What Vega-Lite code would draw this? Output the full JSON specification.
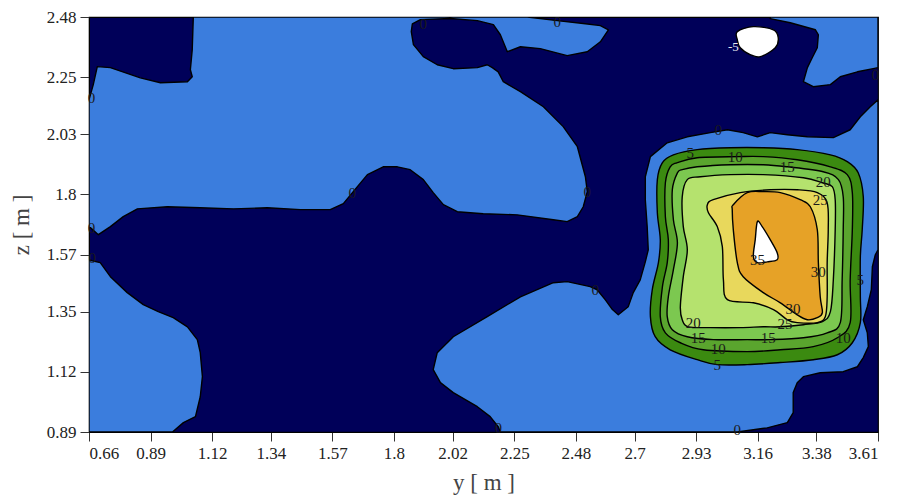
{
"$schema": "https://vega.github.io/schema/vega-lite/v6.json",
"width": 789, "height": 415,
"autosize": {"type": "none"},
"padding": {"left": 89, "top": 17, "right": 19, "bottom": 69},
"background": "white",
"config": {
 "view": {"fill": "#000059", "stroke": "black", "strokeWidth": 1.2},
 "font": "Liberation Serif",
 "axis": {"labelFont": "Liberation Serif", "labelFontSize": 17, "labelColor": "#222", "titleFont": "Liberation Serif", "titleFontSize": 23, "titleFontWeight": "normal", "titleColor": "#444", "tickColor": "#333", "tickSize": 9, "domainColor": "black", "grid": false, "labelPadding": 4}
},
"layer": [
{
 "data": {"values": [
{"p":"p01","b":"00-05","k":1,"y":0.660,"z":2.163},
{"p":"p01","b":"00-05","k":2,"y":0.676,"z":2.221},
{"p":"p01","b":"00-05","k":3,"y":0.691,"z":2.290},
{"p":"p01","b":"00-05","k":4,"y":0.740,"z":2.286},
{"p":"p01","b":"00-05","k":5,"y":0.852,"z":2.247},
{"p":"p01","b":"00-05","k":6,"y":0.927,"z":2.228},
{"p":"p01","b":"00-05","k":7,"y":1.028,"z":2.232},
{"p":"p01","b":"00-05","k":8,"y":1.046,"z":2.251},
{"p":"p01","b":"00-05","k":9,"y":1.039,"z":2.278},
{"p":"p01","b":"00-05","k":10,"y":1.046,"z":2.355},
{"p":"p01","b":"00-05","k":11,"y":1.050,"z":2.480},
{"p":"p01","b":"00-05","k":12,"y":2.299,"z":2.480},
{"p":"p01","b":"00-05","k":13,"y":2.411,"z":2.466},
{"p":"p01","b":"00-05","k":14,"y":2.516,"z":2.454},
{"p":"p01","b":"00-05","k":15,"y":2.572,"z":2.447},
{"p":"p01","b":"00-05","k":16,"y":2.602,"z":2.431},
{"p":"p01","b":"00-05","k":17,"y":2.572,"z":2.385},
{"p":"p01","b":"00-05","k":18,"y":2.523,"z":2.347},
{"p":"p01","b":"00-05","k":19,"y":2.448,"z":2.332},
{"p":"p01","b":"00-05","k":20,"y":2.347,"z":2.359},
{"p":"p01","b":"00-05","k":21,"y":2.273,"z":2.366},
{"p":"p01","b":"00-05","k":22,"y":2.224,"z":2.347},
{"p":"p01","b":"00-05","k":23,"y":2.198,"z":2.412},
{"p":"p01","b":"00-05","k":24,"y":2.172,"z":2.451},
{"p":"p01","b":"00-05","k":25,"y":2.112,"z":2.466},
{"p":"p01","b":"00-05","k":26,"y":2.011,"z":2.474},
{"p":"p01","b":"00-05","k":27,"y":1.899,"z":2.470},
{"p":"p01","b":"00-05","k":28,"y":1.869,"z":2.454},
{"p":"p01","b":"00-05","k":29,"y":1.865,"z":2.424},
{"p":"p01","b":"00-05","k":30,"y":1.873,"z":2.374},
{"p":"p01","b":"00-05","k":31,"y":1.910,"z":2.328},
{"p":"p01","b":"00-05","k":32,"y":1.962,"z":2.297},
{"p":"p01","b":"00-05","k":33,"y":2.022,"z":2.282},
{"p":"p01","b":"00-05","k":34,"y":2.112,"z":2.286},
{"p":"p01","b":"00-05","k":35,"y":2.149,"z":2.297},
{"p":"p01","b":"00-05","k":36,"y":2.168,"z":2.286},
{"p":"p01","b":"00-05","k":37,"y":2.190,"z":2.270},
{"p":"p01","b":"00-05","k":38,"y":2.209,"z":2.232},
{"p":"p01","b":"00-05","k":39,"y":2.273,"z":2.194},
{"p":"p01","b":"00-05","k":40,"y":2.359,"z":2.136},
{"p":"p01","b":"00-05","k":41,"y":2.433,"z":2.060},
{"p":"p01","b":"00-05","k":42,"y":2.486,"z":1.983},
{"p":"p01","b":"00-05","k":43,"y":2.516,"z":1.868},
{"p":"p01","b":"00-05","k":44,"y":2.523,"z":1.811},
{"p":"p01","b":"00-05","k":45,"y":2.508,"z":1.753},
{"p":"p01","b":"00-05","k":46,"y":2.486,"z":1.715},
{"p":"p01","b":"00-05","k":47,"y":2.448,"z":1.696},
{"p":"p01","b":"00-05","k":48,"y":2.396,"z":1.703},
{"p":"p01","b":"00-05","k":49,"y":2.261,"z":1.722},
{"p":"p01","b":"00-05","k":50,"y":2.134,"z":1.726},
{"p":"p01","b":"00-05","k":51,"y":2.037,"z":1.734},
{"p":"p01","b":"00-05","k":52,"y":1.985,"z":1.761},
{"p":"p01","b":"00-05","k":53,"y":1.947,"z":1.807},
{"p":"p01","b":"00-05","k":54,"y":1.910,"z":1.857},
{"p":"p01","b":"00-05","k":55,"y":1.861,"z":1.895},
{"p":"p01","b":"00-05","k":56,"y":1.813,"z":1.906},
{"p":"p01","b":"00-05","k":57,"y":1.760,"z":1.906},
{"p":"p01","b":"00-05","k":58,"y":1.701,"z":1.876},
{"p":"p01","b":"00-05","k":59,"y":1.648,"z":1.811},
{"p":"p01","b":"00-05","k":60,"y":1.611,"z":1.765},
{"p":"p01","b":"00-05","k":61,"y":1.562,"z":1.742},
{"p":"p01","b":"00-05","k":62,"y":1.450,"z":1.742},
{"p":"p01","b":"00-05","k":63,"y":1.327,"z":1.749},
{"p":"p01","b":"00-05","k":64,"y":1.200,"z":1.745},
{"p":"p01","b":"00-05","k":65,"y":1.076,"z":1.749},
{"p":"p01","b":"00-05","k":66,"y":0.953,"z":1.753},
{"p":"p01","b":"00-05","k":67,"y":0.841,"z":1.745},
{"p":"p01","b":"00-05","k":68,"y":0.788,"z":1.715},
{"p":"p01","b":"00-05","k":69,"y":0.740,"z":1.677},
{"p":"p01","b":"00-05","k":70,"y":0.695,"z":1.646},
{"p":"p01","b":"00-05","k":71,"y":0.665,"z":1.673},
{"p":"p01","b":"00-05","k":72,"y":0.660,"z":1.673},
{"p":"p02","b":"00-05","k":1,"y":3.207,"z":2.480},
{"p":"p02","b":"00-05","k":2,"y":3.610,"z":2.480},
{"p":"p02","b":"00-05","k":3,"y":3.610,"z":2.286},
{"p":"p02","b":"00-05","k":4,"y":3.592,"z":2.282},
{"p":"p02","b":"00-05","k":5,"y":3.533,"z":2.270},
{"p":"p02","b":"00-05","k":6,"y":3.469,"z":2.251},
{"p":"p02","b":"00-05","k":7,"y":3.432,"z":2.221},
{"p":"p02","b":"00-05","k":8,"y":3.368,"z":2.213},
{"p":"p02","b":"00-05","k":9,"y":3.331,"z":2.232},
{"p":"p02","b":"00-05","k":10,"y":3.346,"z":2.286},
{"p":"p02","b":"00-05","k":11,"y":3.364,"z":2.324},
{"p":"p02","b":"00-05","k":12,"y":3.383,"z":2.362},
{"p":"p02","b":"00-05","k":13,"y":3.387,"z":2.412},
{"p":"p02","b":"00-05","k":14,"y":3.376,"z":2.431},
{"p":"p02","b":"00-05","k":15,"y":3.282,"z":2.458},
{"p":"p02","b":"00-05","k":16,"y":3.207,"z":2.474},
{"p":"p03","b":"00-05","k":1,"y":1.947,"z":1.129},
{"p":"p03","b":"00-05","k":2,"y":1.962,"z":1.194},
{"p":"p03","b":"00-05","k":3,"y":2.022,"z":1.255},
{"p":"p03","b":"00-05","k":4,"y":2.149,"z":1.332},
{"p":"p03","b":"00-05","k":5,"y":2.273,"z":1.408},
{"p":"p03","b":"00-05","k":6,"y":2.396,"z":1.462},
{"p":"p03","b":"00-05","k":7,"y":2.448,"z":1.466},
{"p":"p03","b":"00-05","k":8,"y":2.534,"z":1.447},
{"p":"p03","b":"00-05","k":9,"y":2.560,"z":1.435},
{"p":"p03","b":"00-05","k":10,"y":2.590,"z":1.397},
{"p":"p03","b":"00-05","k":11,"y":2.617,"z":1.359},
{"p":"p03","b":"00-05","k":12,"y":2.639,"z":1.339},
{"p":"p03","b":"00-05","k":13,"y":2.676,"z":1.370},
{"p":"p03","b":"00-05","k":14,"y":2.695,"z":1.424},
{"p":"p03","b":"00-05","k":15,"y":2.721,"z":1.473},
{"p":"p03","b":"00-05","k":16,"y":2.740,"z":1.542},
{"p":"p03","b":"00-05","k":17,"y":2.751,"z":1.588},
{"p":"p03","b":"00-05","k":18,"y":2.747,"z":1.677},
{"p":"p03","b":"00-05","k":19,"y":2.740,"z":1.780},
{"p":"p03","b":"00-05","k":20,"y":2.740,"z":1.868},
{"p":"p03","b":"00-05","k":21,"y":2.759,"z":1.945},
{"p":"p03","b":"00-05","k":22,"y":2.822,"z":1.998},
{"p":"p03","b":"00-05","k":23,"y":2.897,"z":2.021},
{"p":"p03","b":"00-05","k":24,"y":2.983,"z":2.037},
{"p":"p03","b":"00-05","k":25,"y":3.047,"z":2.048},
{"p":"p03","b":"00-05","k":26,"y":3.106,"z":2.037},
{"p":"p03","b":"00-05","k":27,"y":3.159,"z":2.021},
{"p":"p03","b":"00-05","k":28,"y":3.207,"z":2.037},
{"p":"p03","b":"00-05","k":29,"y":3.271,"z":2.029},
{"p":"p03","b":"00-05","k":30,"y":3.346,"z":2.021},
{"p":"p03","b":"00-05","k":31,"y":3.443,"z":2.018},
{"p":"p03","b":"00-05","k":32,"y":3.506,"z":2.048},
{"p":"p03","b":"00-05","k":33,"y":3.544,"z":2.098},
{"p":"p03","b":"00-05","k":34,"y":3.581,"z":2.136},
{"p":"p03","b":"00-05","k":35,"y":3.610,"z":2.163},
{"p":"p03","b":"00-05","k":36,"y":3.610,"z":1.588},
{"p":"p03","b":"00-05","k":37,"y":3.600,"z":1.569},
{"p":"p03","b":"00-05","k":38,"y":3.589,"z":1.523},
{"p":"p03","b":"00-05","k":39,"y":3.585,"z":1.435},
{"p":"p03","b":"00-05","k":40,"y":3.570,"z":1.370},
{"p":"p03","b":"00-05","k":41,"y":3.555,"z":1.320},
{"p":"p03","b":"00-05","k":42,"y":3.570,"z":1.270},
{"p":"p03","b":"00-05","k":43,"y":3.574,"z":1.217},
{"p":"p03","b":"00-05","k":44,"y":3.555,"z":1.175},
{"p":"p03","b":"00-05","k":45,"y":3.533,"z":1.140},
{"p":"p03","b":"00-05","k":46,"y":3.480,"z":1.121},
{"p":"p03","b":"00-05","k":47,"y":3.394,"z":1.117},
{"p":"p03","b":"00-05","k":48,"y":3.331,"z":1.102},
{"p":"p03","b":"00-05","k":49,"y":3.308,"z":1.079},
{"p":"p03","b":"00-05","k":50,"y":3.293,"z":1.041},
{"p":"p03","b":"00-05","k":51,"y":3.293,"z":0.964},
{"p":"p03","b":"00-05","k":52,"y":3.271,"z":0.926},
{"p":"p03","b":"00-05","k":53,"y":3.196,"z":0.906},
{"p":"p03","b":"00-05","k":54,"y":3.084,"z":0.890},
{"p":"p03","b":"00-05","k":55,"y":2.198,"z":0.890},
{"p":"p03","b":"00-05","k":56,"y":2.190,"z":0.910},
{"p":"p03","b":"00-05","k":57,"y":2.160,"z":0.949},
{"p":"p03","b":"00-05","k":58,"y":2.112,"z":0.987},
{"p":"p03","b":"00-05","k":59,"y":2.022,"z":1.041},
{"p":"p03","b":"00-05","k":60,"y":1.974,"z":1.079},
{"p":"p04","b":"00-05","k":1,"y":0.660,"z":1.550},
{"p":"p04","b":"00-05","k":2,"y":0.672,"z":1.546},
{"p":"p04","b":"00-05","k":3,"y":0.702,"z":1.539},
{"p":"p04","b":"00-05","k":4,"y":0.740,"z":1.485},
{"p":"p04","b":"00-05","k":5,"y":0.803,"z":1.424},
{"p":"p04","b":"00-05","k":6,"y":0.863,"z":1.378},
{"p":"p04","b":"00-05","k":7,"y":0.919,"z":1.351},
{"p":"p04","b":"00-05","k":8,"y":0.975,"z":1.328},
{"p":"p04","b":"00-05","k":9,"y":1.028,"z":1.293},
{"p":"p04","b":"00-05","k":10,"y":1.065,"z":1.244},
{"p":"p04","b":"00-05","k":11,"y":1.076,"z":1.194},
{"p":"p04","b":"00-05","k":12,"y":1.084,"z":1.102},
{"p":"p04","b":"00-05","k":13,"y":1.076,"z":1.025},
{"p":"p04","b":"00-05","k":14,"y":1.058,"z":0.949},
{"p":"p04","b":"00-05","k":15,"y":1.013,"z":0.926},
{"p":"p04","b":"00-05","k":16,"y":0.972,"z":0.890},
{"p":"p04","b":"00-05","k":17,"y":0.660,"z":0.890}
 ]},
 "mark": {"type": "line", "filled": true, "interpolate": "linear-closed", "stroke": "black", "strokeWidth": 1.4, "strokeJoin": "round", "clip": true},
 "encoding": {
  "x": {"field": "y", "type": "quantitative", "scale": {"domain": [0.66, 3.61], "nice": false, "zero": false},
        "axis": {"title": "y [ m ]", "values": [0.66,0.89,1.12,1.34,1.57,1.8,2.02,2.25,2.48,2.7,2.93,3.16,3.38,3.61], "labelExpr": "'' + datum.value", "titlePadding": 10}},
  "y": {"field": "z", "type": "quantitative", "scale": {"domain": [0.89, 2.48], "nice": false, "zero": false},
        "axis": {"title": "z [ m ]", "values": [0.89,1.12,1.35,1.57,1.8,2.03,2.25,2.48], "labelExpr": "'' + datum.value", "titlePadding": 13}},
  "color": {"field": "b", "type": "nominal", "legend": null,
        "scale": {"domain": ["00-05","05-10","10-15","15-20","20-25","25-30","30-35","35+","lt-5"],
                  "range": ["#3b7ddd","#3b8a10","#5aa52e","#7cc850","#b5e26e","#e8d85c","#e6a227","#ffffff","#ffffff"]}},
  "detail": {"field": "p"},
  "order": {"field": "k", "type": "quantitative"}
 }
},
{
 "data": {"values": [
{"p":"p05","b":"05-10","k":1,"y":2.804,"z":1.922},
{"p":"p05","b":"05-10","k":2,"y":2.785,"z":1.857},
{"p":"p05","b":"05-10","k":3,"y":2.785,"z":1.730},
{"p":"p05","b":"05-10","k":4,"y":2.796,"z":1.627},
{"p":"p05","b":"05-10","k":5,"y":2.789,"z":1.539},
{"p":"p05","b":"05-10","k":6,"y":2.766,"z":1.435},
{"p":"p05","b":"05-10","k":7,"y":2.759,"z":1.332},
{"p":"p05","b":"05-10","k":8,"y":2.777,"z":1.255},
{"p":"p05","b":"05-10","k":9,"y":2.833,"z":1.205},
{"p":"p05","b":"05-10","k":10,"y":2.934,"z":1.167},
{"p":"p05","b":"05-10","k":11,"y":3.009,"z":1.148},
{"p":"p05","b":"05-10","k":12,"y":3.121,"z":1.148},
{"p":"p05","b":"05-10","k":13,"y":3.245,"z":1.156},
{"p":"p05","b":"05-10","k":14,"y":3.368,"z":1.167},
{"p":"p05","b":"05-10","k":15,"y":3.458,"z":1.186},
{"p":"p05","b":"05-10","k":16,"y":3.514,"z":1.232},
{"p":"p05","b":"05-10","k":17,"y":3.544,"z":1.309},
{"p":"p05","b":"05-10","k":18,"y":3.544,"z":1.408},
{"p":"p05","b":"05-10","k":19,"y":3.544,"z":1.562},
{"p":"p05","b":"05-10","k":20,"y":3.551,"z":1.665},
{"p":"p05","b":"05-10","k":21,"y":3.555,"z":1.791},
{"p":"p05","b":"05-10","k":22,"y":3.536,"z":1.883},
{"p":"p05","b":"05-10","k":23,"y":3.495,"z":1.926},
{"p":"p05","b":"05-10","k":24,"y":3.432,"z":1.952},
{"p":"p05","b":"05-10","k":25,"y":3.308,"z":1.972},
{"p":"p05","b":"05-10","k":26,"y":3.181,"z":1.979},
{"p":"p05","b":"05-10","k":27,"y":3.058,"z":1.979},
{"p":"p05","b":"05-10","k":28,"y":2.934,"z":1.972},
{"p":"p05","b":"05-10","k":29,"y":2.845,"z":1.952},
{"p":"p06","b":"10-15","k":1,"y":2.833,"z":1.906},
{"p":"p06","b":"10-15","k":2,"y":2.815,"z":1.845},
{"p":"p06","b":"10-15","k":3,"y":2.815,"z":1.715},
{"p":"p06","b":"10-15","k":4,"y":2.826,"z":1.627},
{"p":"p06","b":"10-15","k":5,"y":2.822,"z":1.539},
{"p":"p06","b":"10-15","k":6,"y":2.804,"z":1.447},
{"p":"p06","b":"10-15","k":7,"y":2.796,"z":1.332},
{"p":"p06","b":"10-15","k":8,"y":2.815,"z":1.270},
{"p":"p06","b":"10-15","k":9,"y":2.871,"z":1.232},
{"p":"p06","b":"10-15","k":10,"y":2.957,"z":1.205},
{"p":"p06","b":"10-15","k":11,"y":3.121,"z":1.198},
{"p":"p06","b":"10-15","k":12,"y":3.245,"z":1.205},
{"p":"p06","b":"10-15","k":13,"y":3.368,"z":1.217},
{"p":"p06","b":"10-15","k":14,"y":3.458,"z":1.251},
{"p":"p06","b":"10-15","k":15,"y":3.506,"z":1.309},
{"p":"p06","b":"10-15","k":16,"y":3.506,"z":1.473},
{"p":"p06","b":"10-15","k":17,"y":3.514,"z":1.665},
{"p":"p06","b":"10-15","k":18,"y":3.514,"z":1.807},
{"p":"p06","b":"10-15","k":19,"y":3.495,"z":1.876},
{"p":"p06","b":"10-15","k":20,"y":3.432,"z":1.906},
{"p":"p06","b":"10-15","k":21,"y":3.308,"z":1.933},
{"p":"p06","b":"10-15","k":22,"y":3.181,"z":1.945},
{"p":"p06","b":"10-15","k":23,"y":3.084,"z":1.945},
{"p":"p06","b":"10-15","k":24,"y":2.934,"z":1.941},
{"p":"p06","b":"10-15","k":25,"y":2.860,"z":1.922},
{"p":"p07","b":"15-20","k":1,"y":2.860,"z":1.883},
{"p":"p07","b":"15-20","k":2,"y":2.841,"z":1.818},
{"p":"p07","b":"15-20","k":3,"y":2.845,"z":1.703},
{"p":"p07","b":"15-20","k":4,"y":2.860,"z":1.615},
{"p":"p07","b":"15-20","k":5,"y":2.845,"z":1.512},
{"p":"p07","b":"15-20","k":6,"y":2.826,"z":1.408},
{"p":"p07","b":"15-20","k":7,"y":2.822,"z":1.332},
{"p":"p07","b":"15-20","k":8,"y":2.841,"z":1.282},
{"p":"p07","b":"15-20","k":9,"y":2.897,"z":1.255},
{"p":"p07","b":"15-20","k":10,"y":2.994,"z":1.244},
{"p":"p07","b":"15-20","k":11,"y":3.121,"z":1.244},
{"p":"p07","b":"15-20","k":12,"y":3.207,"z":1.244},
{"p":"p07","b":"15-20","k":13,"y":3.331,"z":1.251},
{"p":"p07","b":"15-20","k":14,"y":3.420,"z":1.270},
{"p":"p07","b":"15-20","k":15,"y":3.469,"z":1.309},
{"p":"p07","b":"15-20","k":16,"y":3.476,"z":1.473},
{"p":"p07","b":"15-20","k":17,"y":3.480,"z":1.665},
{"p":"p07","b":"15-20","k":18,"y":3.480,"z":1.791},
{"p":"p07","b":"15-20","k":19,"y":3.462,"z":1.857},
{"p":"p07","b":"15-20","k":20,"y":3.405,"z":1.887},
{"p":"p07","b":"15-20","k":21,"y":3.271,"z":1.906},
{"p":"p07","b":"15-20","k":22,"y":3.181,"z":1.914},
{"p":"p07","b":"15-20","k":23,"y":3.058,"z":1.914},
{"p":"p07","b":"15-20","k":24,"y":2.934,"z":1.906},
{"p":"p07","b":"15-20","k":25,"y":2.878,"z":1.895},
{"p":"p08","b":"20-25","k":1,"y":2.897,"z":1.857},
{"p":"p08","b":"20-25","k":2,"y":2.878,"z":1.791},
{"p":"p08","b":"20-25","k":3,"y":2.882,"z":1.677},
{"p":"p08","b":"20-25","k":4,"y":2.897,"z":1.588},
{"p":"p08","b":"20-25","k":5,"y":2.882,"z":1.485},
{"p":"p08","b":"20-25","k":6,"y":2.871,"z":1.370},
{"p":"p08","b":"20-25","k":7,"y":2.878,"z":1.320},
{"p":"p08","b":"20-25","k":8,"y":2.901,"z":1.293},
{"p":"p08","b":"20-25","k":9,"y":2.983,"z":1.290},
{"p":"p08","b":"20-25","k":10,"y":3.095,"z":1.290},
{"p":"p08","b":"20-25","k":11,"y":3.181,"z":1.293},
{"p":"p08","b":"20-25","k":12,"y":3.245,"z":1.293},
{"p":"p08","b":"20-25","k":13,"y":3.331,"z":1.301},
{"p":"p08","b":"20-25","k":14,"y":3.402,"z":1.313},
{"p":"p08","b":"20-25","k":15,"y":3.432,"z":1.351},
{"p":"p08","b":"20-25","k":16,"y":3.443,"z":1.473},
{"p":"p08","b":"20-25","k":17,"y":3.450,"z":1.665},
{"p":"p08","b":"20-25","k":18,"y":3.450,"z":1.780},
{"p":"p08","b":"20-25","k":19,"y":3.439,"z":1.830},
{"p":"p08","b":"20-25","k":20,"y":3.402,"z":1.845},
{"p":"p08","b":"20-25","k":21,"y":3.331,"z":1.864},
{"p":"p08","b":"20-25","k":22,"y":3.181,"z":1.876},
{"p":"p08","b":"20-25","k":23,"y":3.058,"z":1.876},
{"p":"p08","b":"20-25","k":24,"y":2.946,"z":1.868},
{"p":"p09","b":"25-30","k":1,"y":2.972,"z":1.761},
{"p":"p09","b":"25-30","k":2,"y":2.994,"z":1.780},
{"p":"p09","b":"25-30","k":3,"y":3.095,"z":1.807},
{"p":"p09","b":"25-30","k":4,"y":3.207,"z":1.818},
{"p":"p09","b":"25-30","k":5,"y":3.308,"z":1.818},
{"p":"p09","b":"25-30","k":6,"y":3.383,"z":1.807},
{"p":"p09","b":"25-30","k":7,"y":3.420,"z":1.768},
{"p":"p09","b":"25-30","k":8,"y":3.424,"z":1.665},
{"p":"p09","b":"25-30","k":9,"y":3.420,"z":1.539},
{"p":"p09","b":"25-30","k":10,"y":3.420,"z":1.408},
{"p":"p09","b":"25-30","k":11,"y":3.413,"z":1.332},
{"p":"p09","b":"25-30","k":12,"y":3.383,"z":1.309},
{"p":"p09","b":"25-30","k":13,"y":3.308,"z":1.309},
{"p":"p09","b":"25-30","k":14,"y":3.271,"z":1.320},
{"p":"p09","b":"25-30","k":15,"y":3.219,"z":1.359},
{"p":"p09","b":"25-30","k":16,"y":3.144,"z":1.385},
{"p":"p09","b":"25-30","k":17,"y":3.047,"z":1.397},
{"p":"p09","b":"25-30","k":18,"y":3.032,"z":1.473},
{"p":"p09","b":"25-30","k":19,"y":3.028,"z":1.600},
{"p":"p09","b":"25-30","k":20,"y":3.009,"z":1.677},
{"p":"p09","b":"25-30","k":21,"y":2.976,"z":1.730},
{"p":"p10","b":"30-35","k":1,"y":3.069,"z":1.761},
{"p":"p10","b":"30-35","k":2,"y":3.121,"z":1.807},
{"p":"p10","b":"30-35","k":3,"y":3.181,"z":1.811},
{"p":"p10","b":"30-35","k":4,"y":3.245,"z":1.807},
{"p":"p10","b":"30-35","k":5,"y":3.319,"z":1.780},
{"p":"p10","b":"30-35","k":6,"y":3.357,"z":1.753},
{"p":"p10","b":"30-35","k":7,"y":3.383,"z":1.665},
{"p":"p10","b":"30-35","k":8,"y":3.387,"z":1.539},
{"p":"p10","b":"30-35","k":9,"y":3.394,"z":1.408},
{"p":"p10","b":"30-35","k":10,"y":3.402,"z":1.347},
{"p":"p10","b":"30-35","k":11,"y":3.383,"z":1.328},
{"p":"p10","b":"30-35","k":12,"y":3.346,"z":1.320},
{"p":"p10","b":"30-35","k":13,"y":3.308,"z":1.339},
{"p":"p10","b":"30-35","k":14,"y":3.245,"z":1.385},
{"p":"p10","b":"30-35","k":15,"y":3.181,"z":1.424},
{"p":"p10","b":"30-35","k":16,"y":3.106,"z":1.485},
{"p":"p10","b":"30-35","k":17,"y":3.084,"z":1.539},
{"p":"p10","b":"30-35","k":18,"y":3.069,"z":1.665},
{"p":"p10","b":"30-35","k":19,"y":3.065,"z":1.742},
{"p":"p11","b":"35+","k":1,"y":3.159,"z":1.696},
{"p":"p11","b":"35+","k":2,"y":3.177,"z":1.677},
{"p":"p11","b":"35+","k":3,"y":3.207,"z":1.627},
{"p":"p11","b":"35+","k":4,"y":3.233,"z":1.577},
{"p":"p11","b":"35+","k":5,"y":3.233,"z":1.550},
{"p":"p11","b":"35+","k":6,"y":3.196,"z":1.542},
{"p":"p11","b":"35+","k":7,"y":3.159,"z":1.539},
{"p":"p11","b":"35+","k":8,"y":3.144,"z":1.562},
{"p":"p11","b":"35+","k":9,"y":3.151,"z":1.627},
{"p":"p12","b":"lt-5","k":1,"y":3.084,"z":2.393},
{"p":"p12","b":"lt-5","k":2,"y":3.084,"z":2.424},
{"p":"p12","b":"lt-5","k":3,"y":3.144,"z":2.443},
{"p":"p12","b":"lt-5","k":4,"y":3.219,"z":2.431},
{"p":"p12","b":"lt-5","k":5,"y":3.237,"z":2.401},
{"p":"p12","b":"lt-5","k":6,"y":3.226,"z":2.362},
{"p":"p12","b":"lt-5","k":7,"y":3.170,"z":2.328},
{"p":"p12","b":"lt-5","k":8,"y":3.132,"z":2.336},
{"p":"p12","b":"lt-5","k":9,"y":3.095,"z":2.362}
 ]},
 "mark": {"type": "line", "filled": true, "interpolate": "cardinal-closed", "stroke": "black", "strokeWidth": 1.4, "strokeJoin": "round", "clip": true},
 "encoding": {
  "x": {"field": "y", "type": "quantitative"},
  "y": {"field": "z", "type": "quantitative"},
  "color": {"field": "b", "type": "nominal", "legend": null},
  "detail": {"field": "p"},
  "order": {"field": "k", "type": "quantitative"}
 }
},
{
 "data": {"values": [
{"t":"0","y":0.669,"z":2.171},
{"t":"0","y":0.669,"z":1.673},
{"t":"0","y":0.672,"z":1.558},
{"t":"0","y":1.644,"z":1.807},
{"t":"0","y":2.523,"z":1.811},
{"t":"0","y":1.910,"z":2.454},
{"t":"0","y":2.411,"z":2.462},
{"t":"0","y":3.013,"z":2.048},
{"t":"0","y":3.600,"z":2.259},
{"t":"0","y":2.553,"z":1.435},
{"t":"0","y":2.190,"z":0.906},
{"t":"0","y":3.084,"z":0.899},
{"t":"5","y":2.908,"z":1.960},
{"t":"10","y":3.076,"z":1.945},
{"t":"15","y":3.271,"z":1.906},
{"t":"20","y":3.405,"z":1.849},
{"t":"25","y":3.394,"z":1.778},
{"t":"35","y":3.159,"z":1.550},
{"t":"30","y":3.387,"z":1.504},
{"t":"5","y":3.544,"z":1.473},
{"t":"30","y":3.292,"z":1.360},
{"t":"25","y":3.262,"z":1.305},
{"t":"20","y":2.919,"z":1.309},
{"t":"15","y":2.938,"z":1.251},
{"t":"15","y":3.200,"z":1.251},
{"t":"10","y":3.480,"z":1.251},
{"t":"10","y":3.013,"z":1.207},
{"t":"5","y":3.009,"z":1.146}
 ]},
 "mark": {"type": "text", "font": "Liberation Serif", "fontSize": 15, "color": "#1a1a1a", "baseline": "middle", "align": "center"},
 "encoding": {
  "x": {"field": "y", "type": "quantitative"},
  "y": {"field": "z", "type": "quantitative"},
  "text": {"field": "t"}
 }
},
{
 "data": {"values": [{"t":"-5","y":3.069,"z":2.366}]},
 "mark": {"type": "text", "font": "Liberation Serif", "fontSize": 13, "color": "#e8e8f0", "baseline": "middle", "align": "center"},
 "encoding": {
  "x": {"field": "y", "type": "quantitative"},
  "y": {"field": "z", "type": "quantitative"},
  "text": {"field": "t"}
 }
}
]
}
